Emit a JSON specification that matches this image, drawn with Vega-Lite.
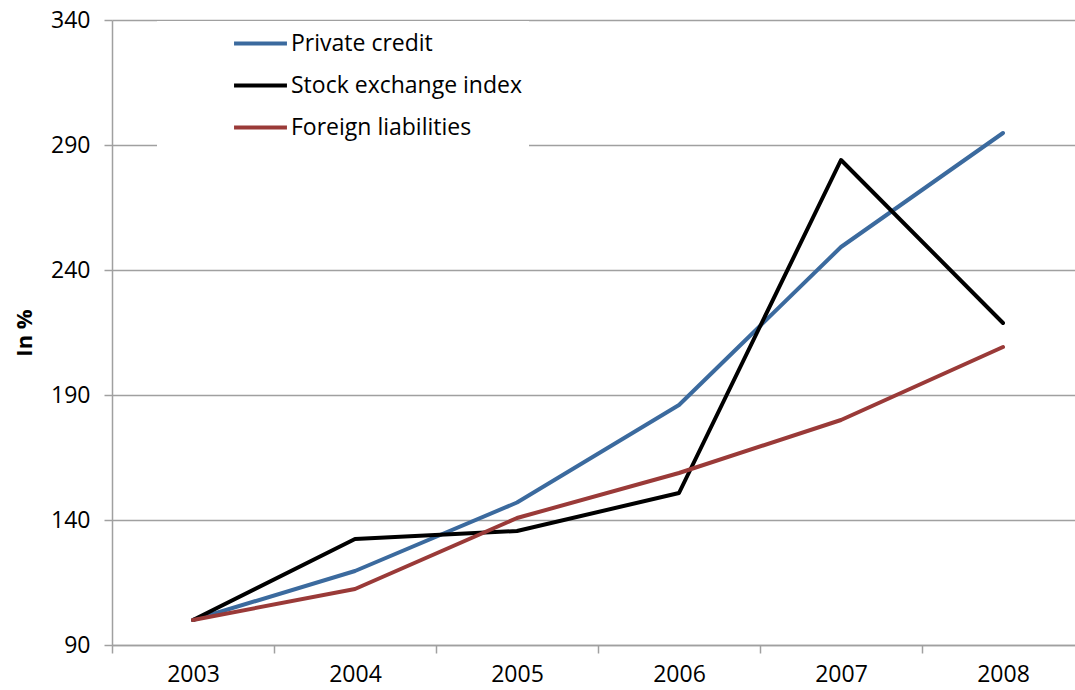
{
  "$schema": "https://vega.github.io/schema/vega-lite/v6.json",
  "width": 972,
  "height": 625,
  "autosize": {"type": "none"},
  "padding": {"left": 112, "top": 20, "right": 0, "bottom": 45},
  "background": "white",
  "config": {
    "font": "Open Sans",
    "view": {"stroke": null},
    "axis": {"labelColor": "#000000", "labelFont": "Open Sans", "labelFontSize": 23, "titleFont": "Open Sans"}
  },
  "data": {
    "values": [
      {"year": "2003", "series": "Private credit", "value": 100},
      {"year": "2004", "series": "Private credit", "value": 119.6},
      {"year": "2005", "series": "Private credit", "value": 147},
      {"year": "2006", "series": "Private credit", "value": 186},
      {"year": "2007", "series": "Private credit", "value": 249.2},
      {"year": "2008", "series": "Private credit", "value": 294.8},
      {"year": "2003", "series": "Stock exchange index", "value": 100},
      {"year": "2004", "series": "Stock exchange index", "value": 132.4},
      {"year": "2005", "series": "Stock exchange index", "value": 135.6},
      {"year": "2006", "series": "Stock exchange index", "value": 150.8},
      {"year": "2007", "series": "Stock exchange index", "value": 284},
      {"year": "2008", "series": "Stock exchange index", "value": 218.8},
      {"year": "2003", "series": "Foreign liabilities", "value": 100},
      {"year": "2004", "series": "Foreign liabilities", "value": 112.4},
      {"year": "2005", "series": "Foreign liabilities", "value": 140.8},
      {"year": "2006", "series": "Foreign liabilities", "value": 158.8},
      {"year": "2007", "series": "Foreign liabilities", "value": 180},
      {"year": "2008", "series": "Foreign liabilities", "value": 209.2}
    ]
  },
  "mark": {"type": "line", "strokeWidth": 4, "strokeCap": "round", "strokeJoin": "round"},
  "encoding": {
    "x": {
      "field": "year",
      "type": "ordinal",
      "scale": {"type": "band", "paddingInner": 0, "paddingOuter": 0},
      "axis": {
        "title": null,
        "labelAngle": 0,
        "tickBand": "extent",
        "grid": false,
        "domainColor": "#a0a0a0",
        "domainWidth": 1.5,
        "tickColor": "#a0a0a0",
        "tickWidth": 1.5,
        "tickSize": 8,
        "labelPadding": 10
      }
    },
    "y": {
      "field": "value",
      "type": "quantitative",
      "scale": {"domain": [90, 340], "nice": false, "zero": false},
      "axis": {
        "title": "In %",
        "titleFontWeight": "bold",
        "titleFontSize": 22,
        "titleColor": "#000000",
        "titlePadding": 14,
        "values": [90, 140, 190, 240, 290, 340],
        "grid": true,
        "gridColor": "#a0a0a0",
        "gridWidth": 1.5,
        "domainColor": "#a0a0a0",
        "domainWidth": 1.5,
        "tickColor": "#a0a0a0",
        "tickWidth": 1.5,
        "tickSize": 8,
        "labelPadding": 14
      }
    },
    "color": {
      "field": "series",
      "type": "nominal",
      "scale": {
        "domain": ["Private credit", "Stock exchange index", "Foreign liabilities"],
        "range": ["#3b6a9e", "#000000", "#9a3a38"]
      },
      "legend": {
        "title": null,
        "orient": "none",
        "legendX": 45,
        "legendY": 1,
        "fillColor": "white",
        "padding": 7,
        "symbolOffset": 81,
        "symbolType": "M-2,0H2",
        "symbolSize": 700,
        "symbolStrokeWidth": 4,
        "labelFontSize": 23,
        "labelFont": "Open Sans",
        "labelColor": "#000000",
        "labelOffset": 15,
        "labelLimit": 400,
        "rowPadding": 14
      }
    }
  }
}
